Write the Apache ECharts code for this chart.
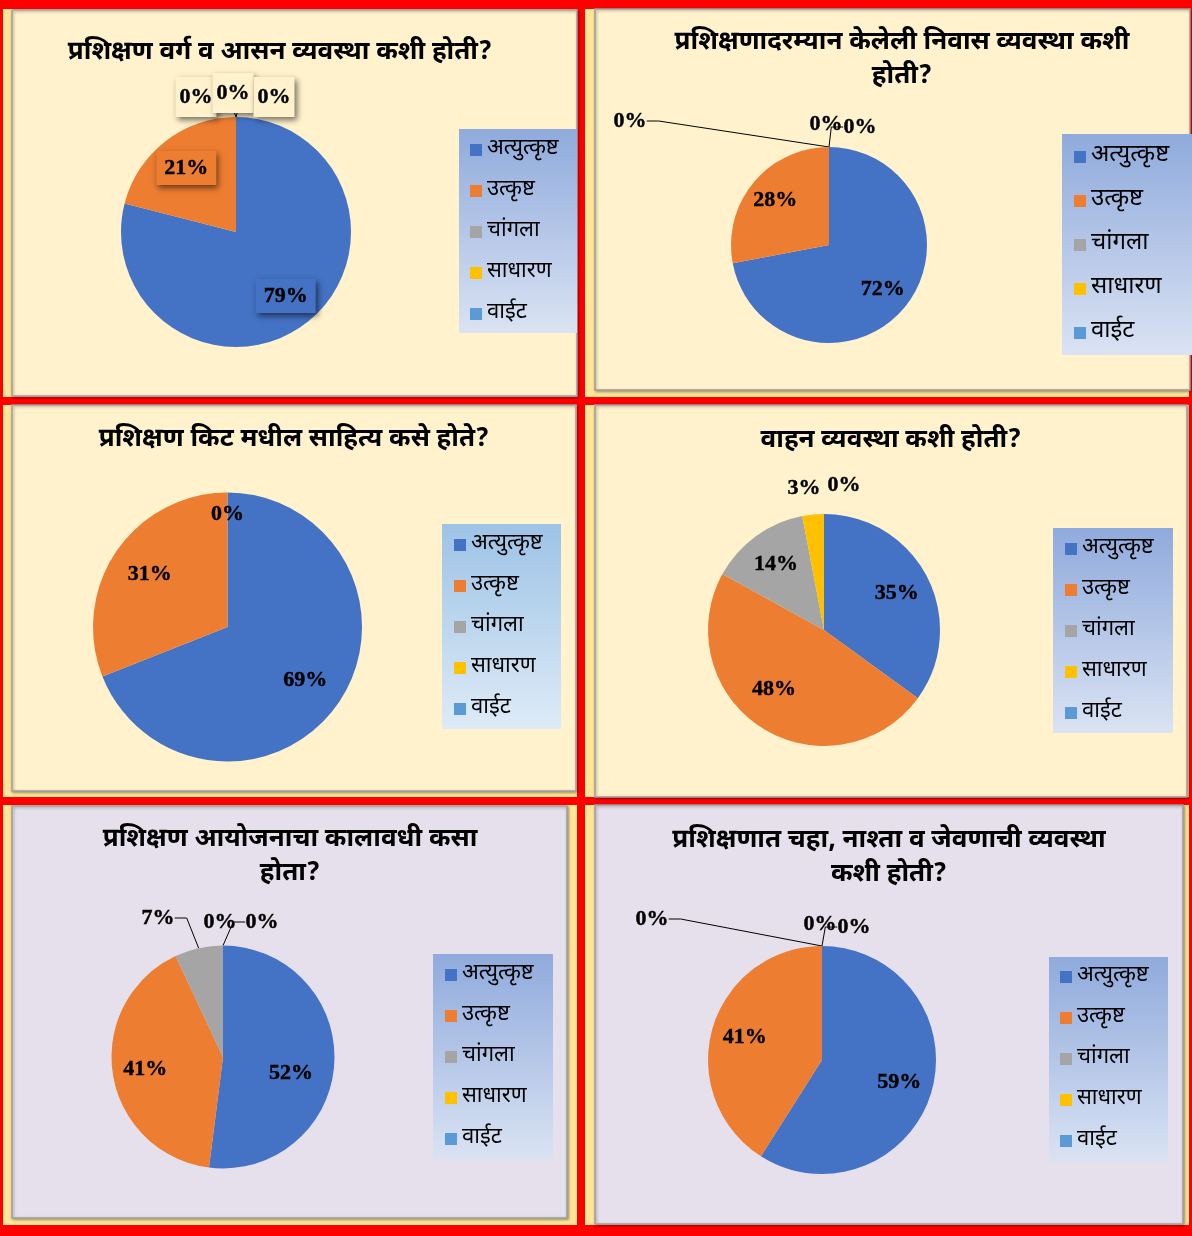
<!DOCTYPE html>
<html>
<head>
<meta charset="utf-8">
<script src="https://cdn.jsdelivr.net/npm/echarts@6/dist/echarts.min.js"></script>
<style>
html,body{margin:0;padding:0;background:#FF0000;}
#c{width:1192px;height:1236px;}
</style>
</head>
<body>
<div id="c"></div>
<script>
// ---------- DATA ----------
const categories = ['अत्युत्कृष्ट', 'उत्कृष्ट', 'चांगला', 'साधारण', 'वाईट'];
const titles = [
  'प्रशिक्षण वर्ग व आसन व्यवस्था कशी होती?',
  'प्रशिक्षणादरम्यान केलेली निवास व्यवस्था कशी\nहोती?',
  'प्रशिक्षण किट मधील साहित्य कसे होते?',
  'वाहन व्यवस्था कशी होती?',
  'प्रशिक्षण आयोजनाचा कालावधी कसा\nहोता?',
  'प्रशिक्षणात चहा, नाश्ता व जेवणाची व्यवस्था\nकशी होती?'
];
const seatingValues   = [79, 21, 0, 0, 0];
const lodgingValues   = [72, 28, 0, 0, 0];
const kitValues       = [69, 31, 0, 0, 0];
const transportValues = [35, 48, 14, 3, 0];
const durationValues  = [52, 41, 7, 0, 0];
const foodValues      = [59, 41, 0, 0, 0];
const valueSets = [seatingValues, lodgingValues, kitValues, transportValues, durationValues, foodValues];

// ---------- STYLE / LAYOUT ----------
const colors = ['#4472C4', '#ED7D31', '#A5A5A5', '#FFC000', '#5B9BD5'];
const FONT_DEV = "'Noto Sans Devanagari','Noto Serif Devanagari','Lohit Devanagari','Noto Sans',sans-serif";
const FONT_NUM = "'Liberation Serif','Times New Roman',serif";
const CREAM = '#FFF2CC', LAV = '#E6E0EC', YEL = '#FFE699';

const cells = [
  {x:3, y:9, w:574, h:388}, {x:585, y:9, w:604, h:388},
  {x:3, y:405, w:574, h:392}, {x:585, y:405, w:604, h:392},
  {x:3, y:805, w:574, h:420}, {x:585, y:805, w:604, h:420}
];
const panels = [
  {x:12, y:10, w:565, h:386, bg:CREAM},
  {x:595, y:9, w:595, h:381, bg:CREAM},
  {x:12, y:405, w:564, h:386, bg:CREAM},
  {x:595, y:405, w:592, h:392, bg:CREAM},
  {x:12, y:806, w:555, h:412, bg:LAV},
  {x:595, y:805, w:588, h:419, bg:LAV}
];
const titlePos = [
  {x:280, y:54}, {x:902, y:61}, {x:294, y:441},
  {x:891, y:442}, {x:290, y:858}, {x:889, y:859}
];
const pies = [
  {cx:236, cy:232, r:115}, {cx:829, cy:245, r:98}, {cx:227.5, cy:627, r:134.5},
  {cx:824, cy:630, r:116}, {cx:223, cy:1057, r:111.5}, {cx:822, cy:1060, r:114}
];
const legends = [
  {x:459, y:129, lh:20, gap:19, fs:22, tw:80, pad:[10,10,8,11], c0:'#8FAADC', c1:'#DAE3F3'},
  {x:1062, y:134, lh:22, gap:20, fs:24, tw:92, pad:[11,10,10,12], c0:'#8FAADC', c1:'#DAE3F3'},
  {x:442, y:524, lh:20, gap:19, fs:22, tw:80, pad:[10,10,9,12], c0:'#9DC3E6', c1:'#DEEBF7'},
  {x:1053, y:528, lh:20, gap:19, fs:22, tw:80, pad:[10,11,9,12], c0:'#8FAADC', c1:'#DAE3F3'},
  {x:433, y:954, lh:20, gap:19, fs:22, tw:80, pad:[10,11,9,12], c0:'#8FAADC', c1:'#DAE3F3'},
  {x:1049, y:957, lh:20, gap:19, fs:22, tw:80, pad:[9,11,10,11], c0:'#8FAADC', c1:'#DAE3F3'}
];
// Manually placed labels: offset from pie centre; 'line' = leader line, 'inside' = no outside placement
const labelSpecs = [
  {2:{off:[-40,-135], line:true}, 3:{off:[-3,-139]}, 4:{off:[38,-135], line:true}},
  {2:{off:[-199,-124], line:true}, 3:{off:[-3,-121]}, 4:{off:[31,-118], line:true}},
  {2:{off:[0,-113]}, 3:{hide:true}, 4:{hide:true}},
  {1:{off:[-50,59], inside:true}, 3:{off:[-20,-142]}, 4:{off:[20,-145]}},
  {0:{off:[68,16], inside:true}, 2:{off:[-65,-139], line:true}, 3:{off:[-3,-135]}, 4:{off:[39,-135], line:true}},
  {2:{off:[-170,-141], line:true}, 3:{off:[-2,-136]}, 4:{off:[32,-133], line:true}}
];
const INSIDE_K = 0.67 / 0.5; // push inside labels from r/2 to ~0.67r

const boxShadow = {shadowBlur: 6, shadowColor: 'rgba(0,0,0,0.55)', shadowOffsetX: 2, shadowOffsetY: 3};

function labelFor(pi, i) {
  const spec = labelSpecs[pi][i];
  const base = {
    show: true, formatter: '{c}%', color: '#000', fontFamily: FONT_NUM,
    fontWeight: 'bold', fontSize: 22, textBorderColor: '#000', textBorderWidth: 0.4
  };
  if (pi === 0) {
    Object.assign(base, boxShadow, {
      backgroundColor: i < 2 ? colors[i] : CREAM,
      padding: i < 2 ? [6, 8] : [9, 4]
    });
  }
  if (spec && spec.hide) return Object.assign(base, {show: false});
  if (spec && !spec.inside) return Object.assign(base, {position: 'outside'});
  return Object.assign(base, {position: 'inside'});
}
function lineFor(pi, i) {
  const spec = labelSpecs[pi][i];
  return {
    show: !!(spec && spec.line), length: 8, length2: 12, smooth: false,
    lineStyle: {color: '#000', width: 1}
  };
}

const graphics = [];
cells.forEach(c => graphics.push({type:'rect', shape:{x:c.x, y:c.y, width:c.w, height:c.h}, style:{fill:YEL}, z:-10}));
panels.forEach(p => graphics.push({
  type:'rect', shape:{x:p.x, y:p.y, width:p.w, height:p.h},
  style:{fill:p.bg, stroke:'#A0A0A0', lineWidth:1.5, shadowBlur:3, shadowColor:'rgba(0,0,0,0.35)', shadowOffsetX:1, shadowOffsetY:1}, z:-9
}));

const option = {
  animation: false,
  color: colors,
  graphic: graphics,
  title: titles.map((t, k) => ({
    text: t, left: titlePos[k].x, top: titlePos[k].y, padding: 0,
    textAlign: 'center', textVerticalAlign: 'middle',
    textStyle: {fontFamily: FONT_DEV, fontWeight: 'bold', fontSize: 26, color: '#000', lineHeight: 34}
  })),
  legend: legends.map(L => ({
    orient: 'vertical', left: L.x, top: L.y, padding: L.pad,
    itemGap: L.gap, itemWidth: 12, itemHeight: 12, icon: 'rect',
    selectedMode: false, data: categories,
    backgroundColor: new echarts.graphic.LinearGradient(0, 0, 0, 1, [
      {offset: 0, color: L.c0}, {offset: 1, color: L.c1}
    ]),
    textStyle: {fontFamily: FONT_DEV, fontSize: L.fs, color: '#000', lineHeight: L.lh, width: L.tw}
  })),
  series: valueSets.map((vals, pi) => {
    const P = pies[pi];
    return {
      type: 'pie', center: [P.cx, P.cy], radius: P.r,
      startAngle: 90, clockwise: true, avoidLabelOverlap: false,
      silent: true,
      itemStyle: {borderWidth: 0},
      data: categories.map((name, i) => ({
        name, value: vals[i],
        itemStyle: {color: colors[i]},
        label: labelFor(pi, i),
        labelLine: lineFor(pi, i)
      })),
      labelLayout: function (p) {
        const spec = labelSpecs[pi][p.dataIndex];
        if (spec && spec.off) {
          return {x: P.cx + spec.off[0], y: P.cy + spec.off[1], align: 'center', verticalAlign: 'middle'};
        }
        const r = p.labelRect;
        const lx = r.x + r.width / 2, ly = r.y + r.height / 2;
        return {x: P.cx + (lx - P.cx) * INSIDE_K, y: P.cy + (ly - P.cy) * INSIDE_K, align: 'center', verticalAlign: 'middle'};
      }
    };
  })
};

const chart = echarts.init(document.getElementById('c'), null, {renderer: 'canvas'});
chart.setOption(option);
</script>
</body>
</html>
